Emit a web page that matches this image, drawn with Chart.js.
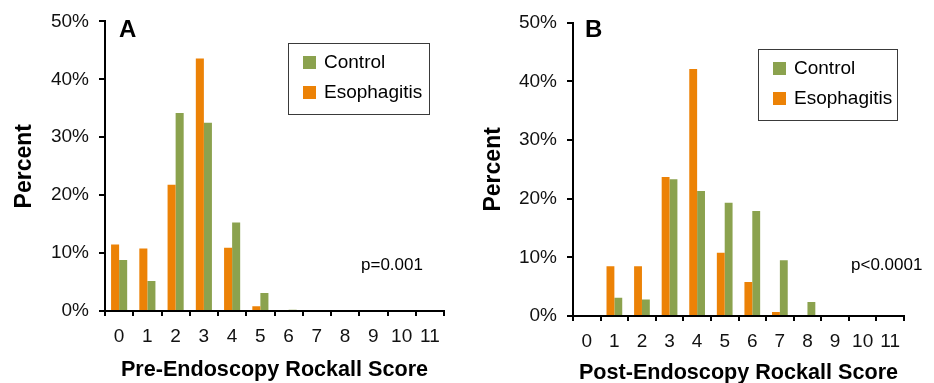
<!DOCTYPE html>
<html>
<head>
<meta charset="utf-8">
<script src="https://cdn.jsdelivr.net/npm/chart.js@4.4.1/dist/chart.umd.min.js"></script>
<style>
  html, body { margin: 0; padding: 0; background: #fff; overflow: hidden; }
  #wrap { position: relative; width: 934px; height: 383px; }
  canvas { position: absolute; top: 0; }
</style>
</head>
<body>
<div id="wrap">
  <canvas id="chartA" width="467" height="383" style="left:0px"></canvas>
  <canvas id="chartB" width="467" height="383" style="left:467px"></canvas>
</div>
<script>
// ---- Data ----
const categories = ['0', '1', '2', '3', '4', '5', '6', '7', '8', '9', '10', '11'];
const preEsophagitis = [11.5, 10.8, 21.8, 43.6, 10.9, 0.8, 0, 0, 0, 0, 0, 0];
const preControl = [8.8, 5.2, 34.2, 32.5, 15.3, 3.1, 0.2, 0, 0, 0, 0, 0];
const postEsophagitis = [0, 8.5, 8.5, 23.7, 42.1, 10.8, 5.8, 0.7, 0, 0, 0, 0];
const postControl = [0, 3.1, 2.8, 23.3, 21.3, 19.3, 17.9, 9.5, 2.4, 0, 0, 0];
const seriesNames = ['Esophagitis', 'Control'];
const yTickValues = [0, 10, 20, 30, 40, 50];
const panelLetters = ['A', 'B'];
const pValues = ['p=0.001', 'p<0.0001'];
const xTitles = ['Pre-Endoscopy Rockall Score', 'Post-Endoscopy Rockall Score'];
const yTitle = 'Percent';

const ORANGE = '#EC8206';
const GREEN = '#8BA24E';
const FONT = '"Liberation Sans", Arial, Helvetica, sans-serif';

const overlay = {
  id: 'overlay',
  afterDraw(chart, args, o) {
    const ctx = chart.ctx;
    ctx.save();
    ctx.fillStyle = '#000';
    ctx.textAlign = 'left';
    ctx.textBaseline = 'alphabetic';
    ctx.font = 'bold 24px ' + FONT;
    ctx.fillText(o.letter, o.letterX, o.letterY);
    ctx.font = '17px ' + FONT;
    ctx.textBaseline = 'middle';
    ctx.fillText(o.pText, o.pX, o.pY);
    const b = o.box;
    ctx.strokeStyle = '#3a3a3a';
    ctx.lineWidth = 1;
    ctx.strokeRect(b.x + 0.5, b.y + 0.5, b.w, b.h);
    const items = chart.data.datasets.slice().reverse();
    items.forEach((ds, i) => {
      const y = b.y + 13 + i * 30;
      ctx.fillStyle = ds.backgroundColor;
      ctx.fillRect(b.x + 15, y, 13, 13);
      ctx.fillStyle = '#000';
      ctx.font = '19px ' + FONT;
      ctx.textBaseline = 'middle';
      ctx.fillText(ds.label, b.x + 36, y + 7);
    });
    ctx.restore();
  }
};

function makeChart(id, esoph, control, idx, geom) {
  return new Chart(document.getElementById(id), {
    type: 'bar',
    data: {
      labels: categories,
      datasets: [
        { label: seriesNames[0], data: esoph, backgroundColor: ORANGE, borderWidth: 0 },
        { label: seriesNames[1], data: control, backgroundColor: GREEN, borderWidth: 0 }
      ]
    },
    plugins: [overlay],
    options: {
      responsive: false,
      devicePixelRatio: 1,
      animation: false,
      datasets: { bar: { categoryPercentage: 0.57, barPercentage: 1.0 } },
      layout: { padding: { left: 0, top: geom.top, right: geom.right, bottom: 0 } },
      plugins: {
        legend: { display: false },
        tooltip: { enabled: false },
        overlay: geom.overlay
      },
      scales: {
        x: {
          type: 'category',
          afterFit: s => { s.height = geom.xHeight; },
          grid: { offset: true, drawOnChartArea: false, drawTicks: true, tickLength: 5, tickColor: '#000', tickWidth: 2, lineWidth: 2, color: '#000' },
          border: { display: true, color: '#000', width: 2 },
          ticks: { color: '#111', font: { family: FONT, size: 19 }, padding: 9, maxRotation: 0, autoSkip: false },
          title: { display: true, text: xTitles[idx], color: '#000', font: { family: FONT, size: 21.6, weight: 'bold', lineHeight: 1 }, padding: { top: 0, bottom: geom.titleBottom } }
        },
        y: {
          min: 0, max: 50,
          afterFit: s => { s.width = geom.yWidth; },
          afterBuildTicks: s => { s.ticks = yTickValues.map(v => ({ value: v })); },
          grid: { drawOnChartArea: false, drawTicks: true, tickLength: 6, tickColor: '#000', tickWidth: 2, lineWidth: 2, color: '#000' },
          border: { display: true, color: '#000', width: 2 },
          ticks: { color: '#111', font: { family: FONT, size: 19 }, padding: 10, callback: v => v + '%' },
          title: { display: true, text: yTitle, color: '#000', font: { family: FONT, size: 23, weight: 'bold', lineHeight: 1 }, padding: { top: geom.yTitlePad, bottom: 0 } }
        }
      }
    }
  });
}

makeChart('chartA', preEsophagitis, preControl, 0, {
  top: 18.5, right: 23, xHeight: 72, yWidth: 105, titleBottom: 2, yTitlePad: 13,
  overlay: { letter: panelLetters[0], letterX: 119, letterY: 37, pText: pValues[0], pX: 361, pY: 265,
             box: { x: 288, y: 43, w: 141, h: 71 } }
});
makeChart('chartB', postEsophagitis, postControl, 1, {
  top: 22.7, right: 30, xHeight: 67, yWidth: 106, titleBottom: -1, yTitlePad: 15,
  overlay: { letter: panelLetters[1], letterX: 118, letterY: 37, pText: pValues[1], pX: 384, pY: 265,
             box: { x: 291, y: 49, w: 139, h: 71 } }
});
</script>
</body>
</html>
